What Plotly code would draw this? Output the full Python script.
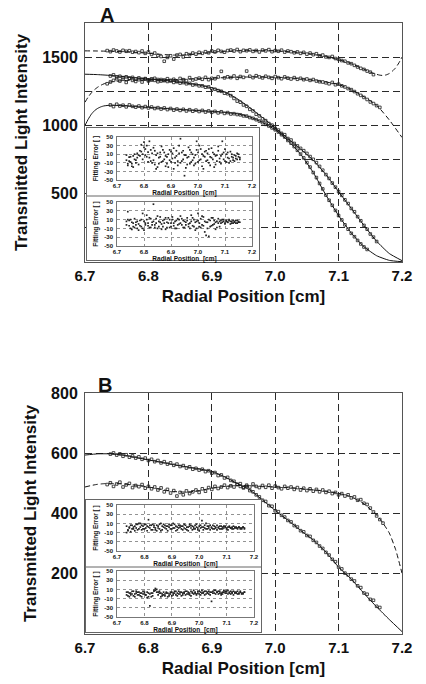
import plotly.graph_objects as go

# ---------------- data ----------------
X_TICKS = [6.7, 6.8, 6.9, 7.0, 7.1, 7.2]
X_TICK_TEXT = ["6.7", "6.8", "6.9", "7.0", "7.1", "7.2"]
Y_TICKS_A = [500, 1000, 1500]
Y_TICKS_B = [200, 400, 600, 800]
ERR_TICKS = [-50, -30, -10, 10, 30, 50]
ERR_TICK_TEXT = ["-50", "-30", "-10", "10", "30", "50"]

# radial positions of the scanned points (cm)
X_PTS = [6.735, 6.740, 6.745, 6.750, 6.755, 6.760, 6.765, 6.770, 6.775, 6.780,
         6.785, 6.790, 6.795, 6.800, 6.805, 6.810, 6.815, 6.820, 6.825, 6.830,
         6.835, 6.840, 6.845, 6.850, 6.855, 6.860, 6.865, 6.870, 6.875, 6.880,
         6.885, 6.890, 6.895, 6.900, 6.905, 6.910, 6.915, 6.920, 6.925, 6.930,
         6.935, 6.940, 6.945, 6.950, 6.955, 6.960, 6.965, 6.970, 6.975, 6.980,
         6.985, 6.990, 6.995, 7.000, 7.005, 7.010, 7.015, 7.020, 7.025, 7.030,
         7.035, 7.040, 7.045, 7.050, 7.055, 7.060, 7.065, 7.070, 7.075, 7.080,
         7.085, 7.090, 7.095, 7.100, 7.105, 7.110, 7.115, 7.120, 7.125, 7.130,
         7.135, 7.140, 7.145, 7.150, 7.155, 7.160, 7.165, 7.170, 7.175]

# Panel A scans
A1_PTS = [1548, 1540, 1552, 1545, 1538, 1550, 1543, 1547, 1536, 1541,
          1533, 1545, 1528, 1538, 1520, 1530, 1512, 1505, 1470, 1498,
          1510, 1486, 1515, 1520, 1502, 1525, 1518, 1530, 1522, 1535,
          1528, 1540, 1532, 1545, 1538, 1550, 1542, 1536, 1548, 1552,
          1545, 1556, 1540, 1550, 1547, 1553, 1542, 1549, 1538, 1552,
          1546, 1555, 1540, 1548, 1543, 1551, 1537, 1545, 1540, 1532,
          1538, 1528, 1535, 1522, 1530, 1518, 1525, 1510, 1515, 1502,
          1498, 1505, 1490, 1484, 1475, 1470, 1458, 1452, 1440, 1428,
          1418, 1410, 1398, 1390, 1372, None, None, None, None]
A2_PTS = [1305, 1318, 1330, 1342, 1325, 1338, 1315, 1345, 1330, 1322,
          1335, 1318, 1340, 1326, 1332, 1345, 1320, 1336, 1328, 1342,
          1330, 1338, 1325, 1344, 1335, 1328, 1350, 1333, 1340, 1346,
          1338, 1352, 1335, 1345, 1342, 1355, 1396, 1348, 1356, 1350,
          1362, 1345, 1358, 1352, 1398, 1360, 1350, 1364, 1355, 1348,
          1360, 1352, 1345, 1358, 1350, 1342, 1355, 1346, 1340, 1350,
          1338, 1345, 1335, 1340, 1330, 1336, 1325, 1320, 1318, 1312,
          1305, 1315, 1298, 1302, 1290, 1282, 1270, 1262, 1248, 1232,
          1220, 1205, 1190, 1172, 1160, 1145, 1132, None, None]
A3_PTS = [None, 1362, 1370, 1355, 1360, 1350, 1356, 1345, 1352, 1340,
          1348, 1338, 1343, 1334, 1341, 1330, 1336, 1325, 1332, 1322,
          1326, 1315, 1320, 1310, 1314, 1305, 1308, 1296, 1300, 1290,
          1290, 1280, 1282, 1268, 1265, 1255, 1250, 1236, 1232, 1218,
          1198, 1178, 1170, 1150, 1140, 1118, 1106, 1082, 1070, 1048,
          1035, 1014, 1002, 978, 966, 942, 932, 904, 893, 868,
          850, 832, 815, 795, 772, 752, 728, 700, 672, 640,
          612, 578, 548, 515, 488, 455, 428, 392, 368, 332,
          302, 268, 240, 205, 182, 150, None, None, None]
A4_PTS = [None, 1150, 1138, 1155, 1142, 1148, 1136, 1150, 1140, 1134,
          1142, 1130, 1138, 1128, 1135, 1124, 1130, 1120, 1128, 1116,
          1124, 1112, 1120, 1110, 1118, 1106, 1115, 1104, 1112, 1102,
          1110, 1098, 1106, 1096, 1103, 1092, 1100, 1088, 1094, 1084,
          1086, 1080, 1078, 1070, 1068, 1058, 1052, 1042, 1032, 1020,
          1008, 996, 982, 968, 952, 932, 915, 890, 870, 845,
          818, 790, 762, 728, 695, 655, 618, 575, 535, 490,
          452, 415, 378, 340, 308, 272, 240, 210, 185, 158,
          132, 110, 92, None, None, None, None, None, None]

# Panel A fitted curves
FA1_X = [6.70, 6.72, 6.74, 6.76, 6.78, 6.80, 6.82, 6.84, 6.86, 6.88, 6.90, 6.92, 6.94,
         6.96, 6.98, 7.00, 7.02, 7.04, 7.06, 7.08, 7.10, 7.12, 7.14, 7.15, 7.16, 7.165,
         7.17, 7.175, 7.18, 7.185, 7.19, 7.195, 7.20]
FA1_Y = [1546, 1545, 1543, 1540, 1535, 1528, 1520, 1515, 1517, 1525, 1534, 1541, 1546,
         1548, 1548, 1546, 1541, 1533, 1521, 1504, 1482, 1452, 1412, 1390, 1374, 1368,
         1366, 1370, 1380, 1398, 1422, 1457, 1500]
FA2_X = [6.70, 6.705, 6.71, 6.715, 6.72, 6.725, 6.73, 6.74, 6.76, 6.78, 6.80, 6.84, 6.88,
         6.92, 6.96, 7.00, 7.04, 7.08, 7.10, 7.12, 7.14, 7.16, 7.18, 7.20]
FA2_Y = [1170, 1208, 1238, 1262, 1280, 1294, 1305, 1318, 1328, 1332, 1333, 1336, 1342,
         1350, 1355, 1353, 1342, 1318, 1300, 1262, 1210, 1148, 1040, 912]
FA3_X = [6.70, 6.72, 6.74, 6.76, 6.78, 6.80, 6.82, 6.84, 6.86, 6.88, 6.90, 6.92, 6.94,
         6.96, 6.98, 7.00, 7.02, 7.04, 7.06, 7.08, 7.10, 7.12, 7.14, 7.16, 7.18, 7.20]
FA3_Y = [1375, 1372, 1366, 1358, 1349, 1340, 1332, 1322, 1310, 1296, 1275, 1245, 1196,
         1130, 1058, 982, 905, 828, 745, 640, 515, 392, 268, 152, 62, 10]
FA4_X = [6.70, 6.705, 6.71, 6.715, 6.72, 6.725, 6.73, 6.74, 6.76, 6.78, 6.80, 6.82, 6.84,
         6.86, 6.88, 6.90, 6.92, 6.94, 6.96, 6.98, 7.00, 7.02, 7.04, 7.06, 7.08, 7.10,
         7.12, 7.14, 7.16, 7.18, 7.20]
FA4_Y = [1000, 1045, 1082, 1108, 1125, 1136, 1143, 1148, 1145, 1138, 1132, 1126, 1120,
         1114, 1108, 1103, 1096, 1085, 1062, 1022, 968, 890, 790, 655, 490, 340,
         212, 112, 46, 12, 2]

# Panel B scans
B1_PTS = [None, 597, 601, 594, 598, 590, 595, 587, 591, 584,
          588, 580, 584, 576, 580, 572, 576, 568, 572, 564,
          568, 560, 564, 556, 559, 551, 555, 547, 550, 544,
          547, 539, 542, 534, 536, 526, 528, 518, 520, 510,
          507, 497, 499, 487, 490, 476, 472, 462, 455, 444,
          440, 426, 424, 409, 406, 394, 388, 377, 372, 360,
          355, 343, 339, 327, 324, 311, 304, 292, 284, 271,
          262, 248, 240, 222, 216, 202, 196, 182, 176, 160,
          154, 136, 132, 115, 112, 92, 88, None, None]
B2_PTS = [496, 502, 490, 498, 504, 488, 495, 500, 486, 493,
          489, 496, 484, 490, 482, 488, 478, 485, 472, 480,
          468, 476, 458, 470, 462, 475, 466, 472, 478, 470,
          482, 474, 486, 480, 490, 483, 488, 494, 486, 492,
          488, 496, 490, 485, 494, 488, 498, 490, 486, 493,
          487, 494, 484, 491, 486, 482, 490, 484, 488, 480,
          486, 478, 484, 476, 482, 474, 480, 472, 478, 470,
          474, 466, 470, 462, 466, 458, 462, 452, 455, 444,
          446, 434, 430, 418, 405, 392, 380, 368, None]

FB1_X = [6.70, 6.72, 6.74, 6.76, 6.78, 6.80, 6.82, 6.84, 6.86, 6.88, 6.90, 6.92, 6.94,
         6.96, 6.98, 7.00, 7.02, 7.04, 7.06, 7.08, 7.10, 7.12, 7.14, 7.16, 7.18, 7.20]
FB1_Y = [594, 598, 598, 594, 586, 578, 570, 562, 555, 548, 540, 522, 500,
         478, 445, 410, 378, 344, 312, 272, 222, 182, 135, 90, 48, 8]
FB2_X = [6.70, 6.71, 6.72, 6.73, 6.74, 6.76, 6.78, 6.80, 6.82, 6.84, 6.86, 6.88, 6.90,
         6.92, 6.94, 6.96, 6.98, 7.00, 7.02, 7.04, 7.06, 7.08, 7.10, 7.12, 7.14, 7.16,
         7.17, 7.18, 7.19, 7.20]
FB2_Y = [488, 493, 497, 499, 500, 498, 494, 488, 480, 473, 471, 476, 484,
         490, 493, 492, 490, 488, 486, 483, 479, 474, 467, 455, 432, 395,
         368, 335, 280, 202]

# Fitting errors (insets)
EA1_A = [-4, -12, 3, -8, -18, 6, -2, -10, 12, 8,
         18, 32, 10, 38, 22, 4, 15, 40, -6, 12,
         25, -14, 8, -20, 2, 14, -8, 20, -2, 6,
         -12, 10, -4, 16, 0, 24, -10, 6, -16, 12,
         46, -6, 18, -40, 8, -14, 4, 20, -8, 10,
         2, -12, 40, 14, -4, 22, -18, 6, 16, -6,
         12, -10, 4, 24, -2, 10, -14, 8, 18, -8,
         6, 40, 14, -6, 10, 2, -10, 16, 4, -4,
         8, 0, 12, 4, -2, None, None, None, None]
EA1_B = [8, -16, -6, 4, -12, -20, 10, -4, 2, -14,
         6, 16, -2, 26, 8, 30, -8, 2, 20, -10,
         -4, 18, -24, 12, -12, 4, 28, -6, 14, -18,
         4, -20, 20, -8, 12, -24, 2, 18, -6, 30,
         -10, 14, -2, 8, -22, 2, 26, -12, 14, -4,
         -16, 8, 20, -8, 30, -2, 10, -24, 4, 18,
         -4, 22, -16, 2, 14, -20, 6, -6, 28, 0,
         -12, 10, -2, 22, -8, 14, 0, -6, 10, 2,
         -6, 6, -2, 10, 2, None, None, None, None]
EA2_A = [6, 28, -4, 10, -12, 2, -8, 4, -10, 0,
         8, -6, 24, -14, 2, 10, -4, 14, -8, 4,
         45, -2, 12, -10, 6, 16, 0, -6, 10, -12,
         4, 14, -8, 2, 10, -4, 6, -10, 12, 0,
         18, -2, 8, -8, 4, 14, -6, 2, 20, -4,
         10, -14, 6, 24, -6, 12, -2, 16, -18, 4,
         -10, -28, 8, -4, 14, 0, -12, 6, 2, -6,
         8, 4, 10, 2, 6, 4, 8, 0, 6, 2,
         4, 8, 2, 6, 4, None, None, None, None]
EA2_B = [-2, 10, 8, -10, 4, -6, 12, -2, 6, -14,
         -4, 10, -10, 6, -2, 20, 2, -8, 12, -2,
         6, -8, 2, 18, -6, 4, -12, 8, 2, 14,
         -8, 2, 10, -6, 16, 2, -10, 8, -2, 10,
         2, 12, -8, 6, -2, 8, 0, -10, 6, 14,
         -6, 4, -10, 8, 2, -8, 18, -4, 6, -26,
         4, 10, -6, 14, -2, 8, 4, -8, 12, 6,
         2, 10, 6, 0, 8, 4, 10, 6, 2, 8,
         6, 2, 8, 4, None, None, None, None, None]
EB1_A = [-10, -4, 2, -8, 6, -2, 4, 8, -4, 10,
         2, 6, -2, 8, 0, 4, 18, 6, -4, 8,
         2, -4, 6, 0, 8, -6, 4, 2, 6, -2,
         4, 8, -2, 6, 10, 0, 4, -4, 6, 2,
         -2, 4, 0, 6, -4, 2, 8, 0, 4, -2,
         6, 2, -4, 4, 0, 16, 2, 6, -2, 4,
         0, 6, 2, -2, 4, 0, 6, 2, -2, 4,
         2, 0, 4, -2, 2, 4, 0, 2, -2, 0,
         2, 0, 2, -2, 0, 2, 0, None, None]
EB1_B = [4, -6, 0, 6, -2, 2, -6, 0, 8, -2,
         10, -4, 4, -2, 8, -6, 2, 0, 6, -4,
         6, 0, -6, 4, -2, 10, -4, 8, 0, 4,
         -6, 2, 6, -2, 0, 8, -6, 2, 0, 6,
         4, -4, 8, -2, 2, -6, 4, 6, -4, 2,
         -2, 8, 0, -6, 6, 2, -4, 0, 10, -2,
         4, -4, 0, 6, -2, 2, -4, 0, 4, -2,
         -2, 4, 2, 0, -4, 2, 0, -2, 4, 2,
         0, -2, 2, 0, -2, 2, -2, None, None]
EB2_A = [-2, 4, -6, 2, 6, -4, 0, 6, -2, 4,
         -4, 2, 6, 0, -2, 4, -6, -26, 2, -4,
         6, 8, 10, 4, 6, 2, -4, -2, 0, 4,
         -6, 0, 4, -4, 2, 6, -2, 2, 6, 0,
         4, -2, 2, 6, 0, 4, -2, 6, 2, 8,
         2, -2, 6, 0, 4, 8, 2, -2, 6, 4,
         0, 4, -16, 6, 2, 8, 4, 0, 6, 2,
         4, 8, 2, 6, 0, 4, 6, 2, -2, 4,
         2, 6, 0, 4, 2, 0, 4, None, None]
EB2_B = [4, -4, 2, -2, 0, 6, -6, 2, 4, -2,
         2, -6, 0, 4, -2, -8, 2, 0, -6, 2,
         8, 12, 4, -2, 2, -6, 0, 4, -4, 2,
         2, -4, 0, 4, -2, 2, 6, -4, 0, 4,
         -4, 2, 4, -2, 6, 0, 2, -4, 4, 0,
         4, 0, 2, 6, -2, 2, 4, 6, 0, 2,
         6, -2, 4, 2, 8, 0, 4, 6, 2, -2,
         0, 4, 6, 2, 8, 2, 0, 4, 6, 2,
         4, 0, 2, 6, 0, 2, 4, None, None]

# ---------------- styling ----------------
W, H = 426, 684
FONT = "Liberation Sans"
INK = "#111111"
GRID = "#2a2a2a"
FRAME = "#555555"
MAIN_DASH = "7px,4px"
FIT_DASH = "5px,3px"


def px_x(a, b):
    return [a / W, b / W]


def px_y(top, bottom):
    return [1 - bottom / H, 1 - top / H]


fig = go.Figure()


def pts(x, y, ax):
    fig.add_trace(go.Scatter(x=x, y=y, mode="markers", xaxis="x" + ax, yaxis="y" + ax,
                             marker=dict(symbol="square-open", size=2.6, color="#1a1a1a",
                                         line=dict(width=0.8, color="#1a1a1a")),
                             showlegend=False, hoverinfo="skip"))


def fit(x, y, ax, dashed):
    fig.add_trace(go.Scatter(x=x, y=y, mode="lines", xaxis="x" + ax, yaxis="y" + ax,
                             line=dict(color="#111111", width=1, shape="spline", smoothing=0.5,
                                       dash=FIT_DASH if dashed else "solid"),
                             showlegend=False, hoverinfo="skip"))


def err(x, y, ax):
    fig.add_trace(go.Scatter(x=x, y=y, mode="markers", xaxis="x" + ax, yaxis="y" + ax,
                             marker=dict(symbol="square", size=1.7, color="#222222"),
                             showlegend=False, hoverinfo="skip"))


# main panel A -> x/y ; main panel B -> x2/y2
fit(FA1_X, FA1_Y, "", True)
fit(FA2_X, FA2_Y, "", True)
fit(FA3_X, FA3_Y, "", False)
fit(FA4_X, FA4_Y, "", False)
pts(X_PTS, A1_PTS, "")
pts(X_PTS, A2_PTS, "")
pts(X_PTS, A3_PTS, "")
pts(X_PTS, A4_PTS, "")

fit(FB1_X, FB1_Y, "2", False)
fit(FB2_X, FB2_Y, "2", True)
pts(X_PTS, B1_PTS, "2")
pts(X_PTS, B2_PTS, "2")

# inset background boxes (x3/y3, x4/y4)
for ax in ("3", "4"):
    fig.add_trace(go.Scatter(x=[None], y=[None], xaxis="x" + ax, yaxis="y" + ax,
                             mode="markers", showlegend=False, hoverinfo="skip"))

# inset residual plots x5..x8
err(X_PTS, EA1_A, "5"); err(X_PTS, EA1_B, "5")
err(X_PTS, EA2_A, "6"); err(X_PTS, EA2_B, "6")
err(X_PTS, EB1_A, "7"); err(X_PTS, EB1_B, "7")
err(X_PTS, EB2_A, "8"); err(X_PTS, EB2_B, "8")

bold = dict(family=FONT, color=INK, weight="bold")


def main_x(dom_y_anchor):
    return dict(range=[6.7, 7.2], domain=px_x(85, 402), anchor=dom_y_anchor, automargin=False,
                tickvals=X_TICKS, ticktext=X_TICK_TEXT, ticks="",
                tickfont=dict(bold, size=15), ticklabelstandoff=0,
                showgrid=True, gridcolor=GRID, griddash=MAIN_DASH, gridwidth=1,
                showline=True, mirror=True, linecolor=FRAME, linewidth=1, zeroline=False,
                title=dict(text="Radial Position [cm]", font=dict(bold, size=17), standoff=7))


def main_y(rng, ticks, minor_dt, top, bottom, anchor):
    d = dict(range=rng, domain=px_y(top, bottom), anchor=anchor, automargin=False,
             tickvals=ticks, ticks="", tickfont=dict(bold, size=16), ticklabelstandoff=3,
             showgrid=True, gridcolor=GRID, griddash=MAIN_DASH, gridwidth=1,
             showline=True, mirror=True, linecolor=FRAME, linewidth=1, zeroline=False,
             title=dict(text="Transmitted Light Intensity", font=dict(bold, size=17), standoff=10))
    if minor_dt:
        d["minor"] = dict(dtick=minor_dt, tick0=0, showgrid=True, gridcolor=GRID,
                          griddash=MAIN_DASH, gridwidth=1, ticks="")
    return d


def box_axis(dom, anchor):
    return dict(domain=dom, anchor=anchor, range=[0, 1], showgrid=False, zeroline=False,
                automargin=False, showticklabels=False, ticks="", showline=True, mirror=True,
                linecolor="#666666", linewidth=1, fixedrange=True)


def inset_x(left, right, anchor):
    return dict(range=[6.7, 7.2], domain=px_x(left, right), anchor=anchor, automargin=False,
                tickvals=X_TICKS, ticktext=X_TICK_TEXT, ticks="",
                tickfont=dict(bold, size=6), ticklabelstandoff=0,
                showgrid=True, gridcolor="#777777", griddash="dot", gridwidth=0.8,
                showline=True, mirror=True, linecolor="#555555", linewidth=0.8, zeroline=False,
                title=dict(text="Radial Position  [cm]", font=dict(bold, size=6.5), standoff=1))


def inset_y(top, bottom, anchor):
    return dict(range=[-50, 50], domain=px_y(top, bottom), anchor=anchor, automargin=False,
                tickvals=ERR_TICKS, ticktext=ERR_TICK_TEXT, ticks="",
                tickfont=dict(bold, size=6), ticklabelstandoff=2,
                showgrid=True, gridcolor="#777777", griddash="dot", gridwidth=0.8,
                showline=True, mirror=True, linecolor="#555555", linewidth=0.8, zeroline=False,
                title=dict(text="Fitting Error [ ]", font=dict(bold, size=6.5), standoff=4))


layout = dict(
    width=W, height=H, autosize=False,
    margin=dict(l=0, r=0, t=0, b=0, pad=0),
    paper_bgcolor="white", plot_bgcolor="white",
    font=dict(family=FONT, color=INK),
    showlegend=False,
    xaxis=main_x("y"),
    yaxis=main_y([0, 1750], Y_TICKS_A, 250, 23, 262, "x"),
    xaxis2=main_x("y2"),
    yaxis2=main_y([0, 800], Y_TICKS_B, None, 393, 634, "x2"),
    xaxis3=box_axis(px_x(87, 259), "y3"),
    yaxis3=box_axis(px_y(128, 260), "x3"),
    xaxis4=box_axis(px_x(86, 261), "y4"),
    yaxis4=box_axis(px_y(500, 632), "x4"),
    xaxis5=inset_x(117, 252, "y5"),
    yaxis5=inset_y(137, 180, "x5"),
    xaxis6=inset_x(117, 252, "y6"),
    yaxis6=inset_y(202, 246, "x6"),
    xaxis7=inset_x(117, 254, "y7"),
    yaxis7=inset_y(505, 551, "x7"),
    xaxis8=inset_x(117, 254, "y8"),
    yaxis8=inset_y(571, 617, "x8"),
    annotations=[
        dict(text="A", x=107 / W, y=1 - 15 / H, xref="paper", yref="paper", showarrow=False,
             font=dict(bold, size=20), xanchor="center", yanchor="middle"),
        dict(text="B", x=105 / W, y=1 - 385 / H, xref="paper", yref="paper", showarrow=False,
             font=dict(bold, size=20), xanchor="center", yanchor="middle"),
    ],
    shapes=[
        dict(type="line", xref="paper", yref="paper", x0=87 / W, x1=259 / W,
             y0=1 - 196 / H, y1=1 - 196 / H, line=dict(color="#666666", width=1)),
        dict(type="line", xref="paper", yref="paper", x0=86 / W, x1=261 / W,
             y0=1 - 567 / H, y1=1 - 567 / H, line=dict(color="#666666", width=1)),
    ],
)
fig.update_layout(**layout)
fig.write_html("out.html",
               config={"displayModeBar": False, "staticPlot": True},
               post_script="document.body.style.margin='0';document.body.style.overflow='hidden';")
